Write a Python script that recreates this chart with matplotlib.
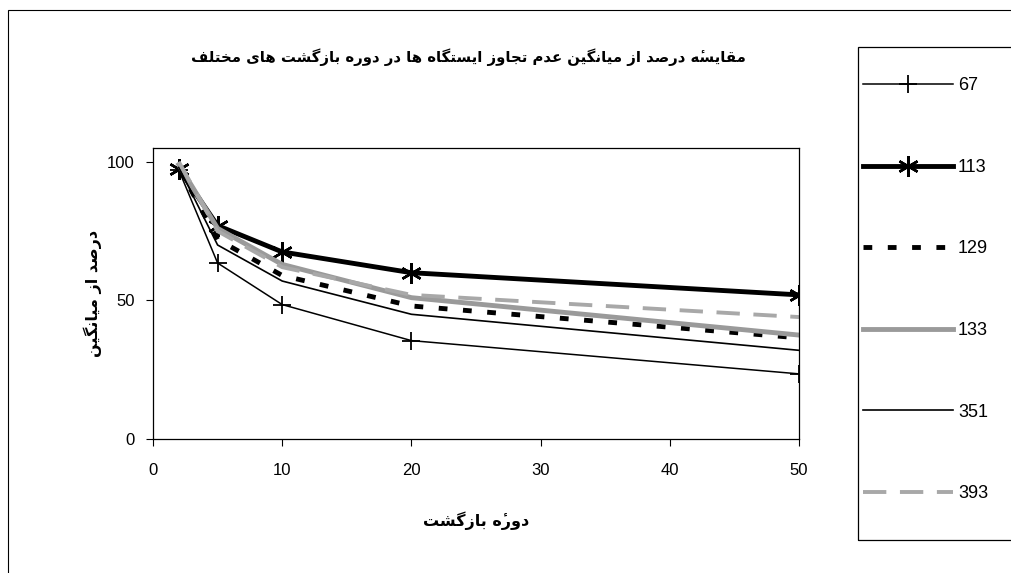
import matplotlib
matplotlib.use("Agg")
import matplotlib.pyplot as plt
from matplotlib.patches import Rectangle

# data
periods = [2, 5, 10, 20, 50]
s67 = [97, 63.5, 48.5, 35.5, 23.5]
s113 = [97.5, 77, 67.5, 60, 52]
s129 = [98, 72, 59, 48, 36.5]
s133 = [99, 76, 63, 51, 37.5]
s351 = [98, 70, 57, 45, 32]
s393 = [100, 75, 62, 52, 44]
station_names = ["67", "113", "129", "133", "351", "393"]

title_txt = "مقایسه\u0654 درصد از میانگین عدم تجاوز ایستگاه ها در دوره بازگشت های مختلف"
xlabel_txt = "دوره\u0654 بازگشت"
ylabel_txt = "درصد از میانگین"

# arabic presentation forms: isolated, final, initial, medial
FORMS = {
    "ا": (0xFE8D, 0xFE8E), "ب": (0xFE8F, 0xFE90, 0xFE91, 0xFE92),
    "ت": (0xFE95, 0xFE96, 0xFE97, 0xFE98), "ج": (0xFE9D, 0xFE9E, 0xFE9F, 0xFEA0),
    "خ": (0xFEA5, 0xFEA6, 0xFEA7, 0xFEA8), "د": (0xFEA9, 0xFEAA),
    "ر": (0xFEAD, 0xFEAE), "ز": (0xFEAF, 0xFEB0),
    "س": (0xFEB1, 0xFEB2, 0xFEB3, 0xFEB4), "ش": (0xFEB5, 0xFEB6, 0xFEB7, 0xFEB8),
    "ص": (0xFEB9, 0xFEBA, 0xFEBB, 0xFEBC), "ع": (0xFEC9, 0xFECA, 0xFECB, 0xFECC),
    "ف": (0xFED1, 0xFED2, 0xFED3, 0xFED4), "ق": (0xFED5, 0xFED6, 0xFED7, 0xFED8),
    "ل": (0xFEDD, 0xFEDE, 0xFEDF, 0xFEE0), "م": (0xFEE1, 0xFEE2, 0xFEE3, 0xFEE4),
    "ن": (0xFEE5, 0xFEE6, 0xFEE7, 0xFEE8), "ه": (0xFEE9, 0xFEEA, 0xFEEB, 0xFEEC),
    "و": (0xFEED, 0xFEEE), "ی": (0xFBFC, 0xFBFD, 0xFBFE, 0xFBFF),
    "ک": (0xFB8E, 0xFB8F, 0xFB90, 0xFB91), "گ": (0xFB92, 0xFB93, 0xFB94, 0xFB95),
}
MARKS = "\u0654"


def shape(text):
    out = []
    for i, ch in enumerate(text):
        if ch in MARKS:
            # keep the mark right after its base once the string is reversed
            out.insert(len(out) - 1, ch)
            continue
        if ch not in FORMS:
            out.append(ch)
            continue
        f = FORMS[ch]
        prev = text[i - 1] if i > 0 else ""
        nxt = text[i + 1] if i + 1 < len(text) else ""
        jp = prev in FORMS and len(FORMS[prev]) == 4
        jn = nxt in FORMS and len(f) == 4
        out.append(chr(f[(1 if jp else 0) + (2 if jn else 0)]))
    return "".join(reversed(out))


plt.rcParams["font.family"] = ["Liberation Sans", "DejaVu Sans"]

fig = plt.figure(figsize=(10.12, 5.73), dpi=100)
W, H = 1012, 573

# outer chart border (cut by the scan on right/bottom)
fig.patches.append(Rectangle((8 / W, -0.1), 1.2, 1.1 - 10 / H, transform=fig.transFigure,
                             fill=False, ec="black", lw=0.8))

ax = fig.add_axes([153 / W, 1 - 439 / H, (799 - 153) / W, (439 - 148) / H])

ax.plot(periods, s67, color="black", lw=1.1, marker="+", ms=13, mew=1.3, label=station_names[0])
ax.plot(periods, s113, color="black", lw=3.5, marker=(6, 2, 0), ms=15, mew=1.8, label=station_names[1])
ax.plot(periods, s129, color="black", lw=3.5, dashes=(1.8, 3.2), label=station_names[2])
ax.plot(periods, s133, color="#9a9a9a", lw=3.5, label=station_names[3])
ax.plot(periods, s351, color="black", lw=1.2, label=station_names[4])
ax.plot(periods, s393, color="#a8a8a8", lw=2.8, dashes=(6, 3.5), label=station_names[5])

ax.set_xlim(0, 50)
ax.set_ylim(0, 105)
ax.set_xticks([0, 10, 20, 30, 40, 50])
ax.set_yticks([0, 50, 100])
ax.tick_params(direction="out", length=5, width=0.8, labelsize=12)
ax.tick_params(axis="x", pad=12)
ax.tick_params(axis="y", pad=8)
for sp in ax.spines.values():
    sp.set_linewidth(0.9)

ax.set_xlabel(shape(xlabel_txt), family=["DejaVu Sans"], fontweight="bold", fontsize=11.5, labelpad=24)
ax.set_ylabel(shape(ylabel_txt), family=["DejaVu Sans"], fontweight="bold", fontsize=11.5, labelpad=4)
fig.text(468 / W, 1 - 57 / H, shape(title_txt), family=["DejaVu Sans"], fontweight="bold",
         fontsize=10.7, ha="center", va="center")

# legend box, extends past the right edge like the scan
fig.patches.append(Rectangle((858 / W, 1 - 540 / H), 0.3, (540 - 47) / H, transform=fig.transFigure,
                             fill=False, ec="black", lw=0.9))
handles, labels = ax.get_legend_handles_labels()
fig.legend(handles, labels, loc="upper left", bbox_to_anchor=(856 / W, 1 - 70 / H), frameon=False,
           handlelength=5.0, handletextpad=0.25, labelspacing=3.58, fontsize=13, borderaxespad=0)

fig.savefig("out.png", dpi=100)
